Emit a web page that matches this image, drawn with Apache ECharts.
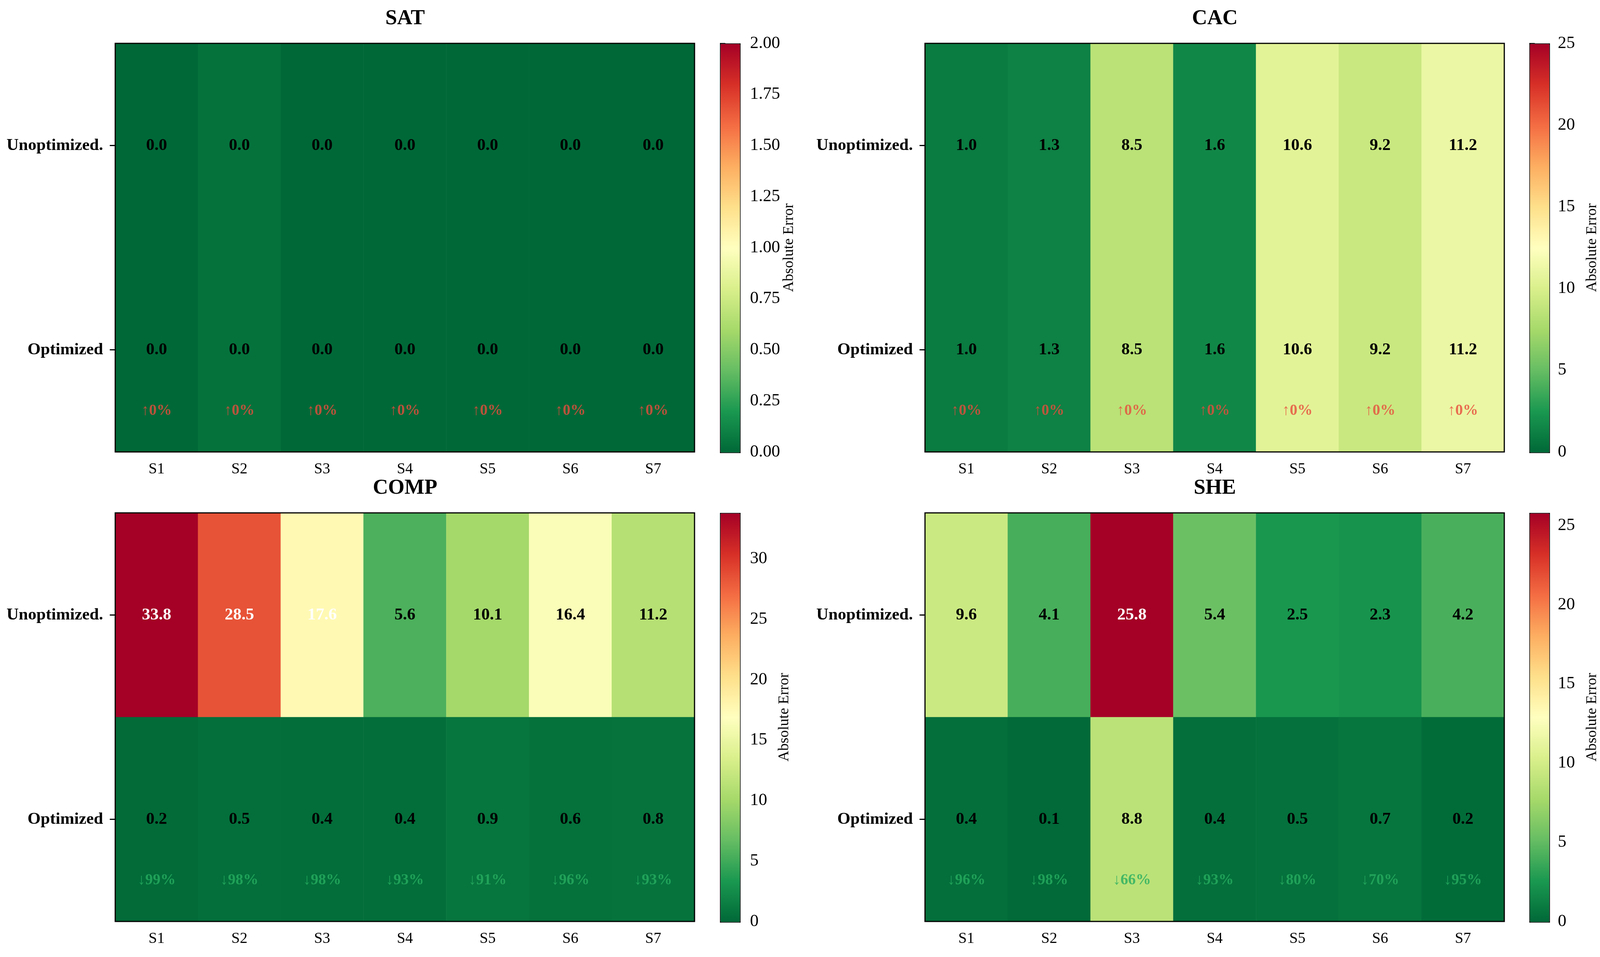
<!DOCTYPE html>
<html>
<head>
<meta charset="utf-8">
<script src="https://cdn.jsdelivr.net/npm/echarts@6/dist/echarts.min.js"></script>
<style>
  html, body { margin: 0; padding: 0; background: #fff; overflow: hidden; }
  #chart { width: 100vw; height: 100vh; }
</style>
</head>
<body>
<div id="chart"></div>
<script>
// categories
const stages = ['S1', 'S2', 'S3', 'S4', 'S5', 'S6', 'S7'];
const rowNames = ['Unoptimized.', 'Optimized'];
const panelTitles = ['SAT', 'CAC', 'COMP', 'SHE'];

// absolute error per stage
const satUnopt = [0.0, 0.04, 0.0, 0.0, 0.0, 0.0, 0.0];
const satOpt = [0.0, 0.04, 0.0, 0.0, 0.0, 0.0, 0.0];
const cacUnopt = [1.0, 1.3, 8.5, 1.6, 10.6, 9.2, 11.2];
const cacOpt = [1.0, 1.3, 8.5, 1.6, 10.6, 9.2, 11.2];
const compUnopt = [33.8, 28.5, 17.6, 5.6, 10.1, 16.4, 11.2];
const compOpt = [0.2, 0.5, 0.4, 0.4, 0.9, 0.6, 0.8];
const sheUnopt = [9.6, 4.1, 25.8, 5.4, 2.5, 2.3, 4.2];
const sheOpt = [0.4, 0.1, 8.8, 0.4, 0.5, 0.7, 0.2];

// change labels shown under the optimized row
const satChange = ['↑0%', '↑0%', '↑0%', '↑0%', '↑0%', '↑0%', '↑0%'];
const cacChange = ['↑0%', '↑0%', '↑0%', '↑0%', '↑0%', '↑0%', '↑0%'];
const compChange = ['↓99%', '↓98%', '↓98%', '↓93%', '↓91%', '↓96%', '↓93%'];
const sheChange = ['↓96%', '↓98%', '↓66%', '↓93%', '↓80%', '↓70%', '↓95%'];

// colorbar ranges and ticks
const colorMax = [2.0, 25, 33.8, 25.8];
const satTicks = [0, 0.25, 0.5, 0.75, 1.0, 1.25, 1.5, 1.75, 2.0];
const cacTicks = [0, 5, 10, 15, 20, 25];
const compTicks = [0, 5, 10, 15, 20, 25, 30];
const sheTicks = [0, 5, 10, 15, 20, 25];

// RdYlGn reversed
const cmap = ['#006837', '#1a9850', '#66bd63', '#a6d96a', '#d9ef8b', '#ffffbf',
              '#fee08b', '#fdae61', '#f46d43', '#d73027', '#a50026'];

const FONT = 'Liberation Serif';
const panels = [
    {unopt: satUnopt, opt: satOpt, change: satChange, ticks: satTicks, digits: 2},
    {unopt: cacUnopt, opt: cacOpt, change: cacChange, ticks: cacTicks, digits: 0},
    {unopt: compUnopt, opt: compOpt, change: compChange, ticks: compTicks, digits: 0},
    {unopt: sheUnopt, opt: sheOpt, change: sheChange, ticks: sheTicks, digits: 0},
];

// layout is measured on a 4300x2450 page, scaled to whatever the viewport really is
const chart = echarts.init(document.getElementById('chart'), null, {renderer: 'canvas'});
const W = chart.getWidth(), H = chart.getHeight();
const sx = W / 4300, sy = H / 2450, sf = (sx + sy) / 2;
const X = v => Math.round(v * sx), Y = v => Math.round(v * sy), F = v => Math.round(v * sf);

const plotLeft = [310, 2486];
const plotTop = [111, 1313];
const plotW = 1557;
const plotH = 1046;
const barLeft = [1935, 4110];
const barW = 53;

let grid = [], xAxis = [], yAxis = [], series = [], visualMap = [], title = [];

panels.forEach((p, i) => {
    const col = i % 2, row = Math.floor(i / 2);
    const vmax = colorMax[i];
    const g = grid.length;

    // heatmap grid, border drawn above the cells
    grid.push({
        left: X(plotLeft[col]), top: Y(plotTop[row]), width: X(plotW), height: Y(plotH),
        show: true, borderColor: '#000', borderWidth: 3, backgroundColor: 'transparent', z: 5
    });
    // colorbar grid
    grid.push({
        left: X(barLeft[col]), top: Y(plotTop[row]), width: X(barW), height: Y(plotH), show: false
    });

    title.push({
        text: panelTitles[i],
        left: X(plotLeft[col] + plotW / 2),
        top: Y(plotTop[row] - 90),
        textAlign: 'center',
        padding: 0,
        textStyle: {fontFamily: FONT, fontWeight: 'bold', fontSize: F(55), color: '#000'}
    });

    const xi = xAxis.length;
    xAxis.push({
        type: 'category', gridIndex: g, data: stages, position: 'bottom',
        axisLine: {show: false},
        axisTick: {show: true, alignWithLabel: true, length: F(14), lineStyle: {color: '#000', width: 3}},
        axisLabel: {fontFamily: FONT, fontSize: F(40), color: '#000', margin: F(26)},
        splitLine: {show: false}
    });
    xAxis.push({
        type: 'value', gridIndex: g + 1, show: false, min: 0, max: 1
    });

    const yi = yAxis.length;
    yAxis.push({
        type: 'category', gridIndex: g, data: rowNames, inverse: true,
        axisLine: {show: false},
        axisTick: {show: true, alignWithLabel: true, length: F(14), lineStyle: {color: '#000', width: 3}},
        axisLabel: {fontFamily: FONT, fontWeight: 'bold', fontSize: F(44), color: '#000', margin: F(32)},
        splitLine: {show: false}
    });
    // hidden value axis used to place the change labels between rows
    yAxis.push({
        type: 'value', gridIndex: g, min: -0.5, max: 1.5, inverse: true, show: false
    });
    // colorbar axis
    yAxis.push({
        type: 'value', gridIndex: g + 1, position: 'right', min: 0, max: vmax,
        name: 'Absolute Error', nameLocation: 'middle', nameGap: F(98), nameRotate: 90,
        nameTextStyle: {fontFamily: FONT, fontSize: F(39), color: '#000'},
        axisLine: {show: false},
        axisTick: {show: true, length: F(14), lineStyle: {color: '#000', width: 3}, customValues: p.ticks},
        axisLabel: {
            fontFamily: FONT, fontSize: F(45), color: '#000', margin: F(28),
            customValues: p.ticks,
            formatter: v => Number(v).toFixed(p.digits)
        },
        splitLine: {show: false}
    });

    const cells = [];
    [p.unopt, p.opt].forEach((vals, r) => {
        vals.forEach((v, j) => {
            cells.push({
                value: [j, r, v],
                label: {color: v > vmax / 2 ? '#fff' : '#000'}
            });
        });
    });

    visualMap.push({
        type: 'continuous', seriesIndex: series.length, dimension: 2,
        min: 0, max: vmax, calculable: false, hoverLink: false,
        inRange: {color: cmap},
        left: X(barLeft[col]), top: Y(plotTop[row]),
        itemWidth: X(barW), itemHeight: Y(plotH),
        padding: 0, borderColor: '#111', borderWidth: 3
    });

    series.push({
        type: 'heatmap', xAxisIndex: xi, yAxisIndex: yi, data: cells,
        itemStyle: {borderWidth: 0},
        label: {
            show: true, fontFamily: FONT, fontWeight: 'bold', fontSize: F(44),
            formatter: q => q.value[2].toFixed(1)
        },
        emphasis: {disabled: true}
    });

    series.push({
        type: 'scatter', xAxisIndex: xi, yAxisIndex: yi + 1, symbolSize: 0,
        data: p.change.map((t, j) => ({
            value: [j, 1.3],
            label: {formatter: t, color: t.startsWith('↓') ? '#27ae60' : '#e74c3c'}
        })),
        label: {show: true, position: 'inside', fontFamily: FONT, fontWeight: 'bold', fontSize: F(40)},
        emphasis: {disabled: true},
        z: 6
    });
});

chart.setOption({
    backgroundColor: '#fff',
    animation: false,
    title: title,
    grid: grid,
    xAxis: xAxis,
    yAxis: yAxis,
    visualMap: visualMap,
    series: series
});
</script>
</body>
</html>
